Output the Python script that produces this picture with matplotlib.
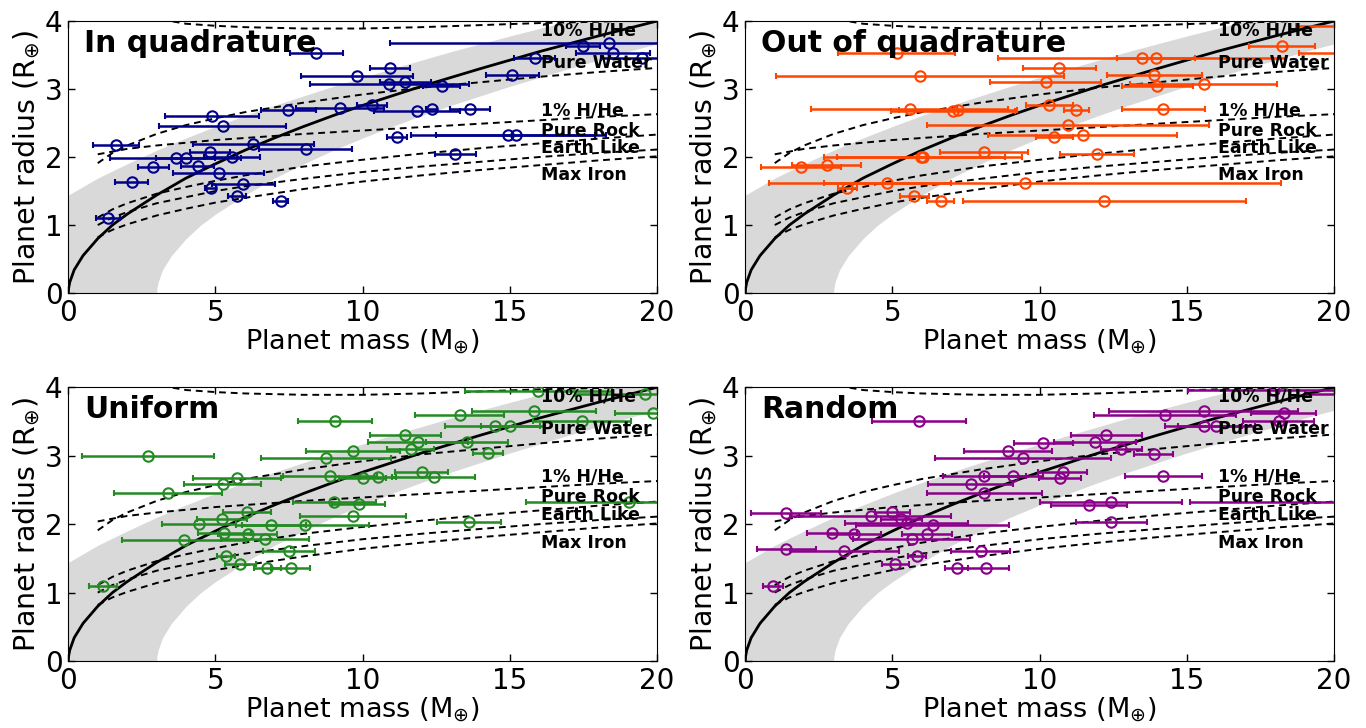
import numpy as np
import matplotlib
matplotlib.use("Agg")
import matplotlib.pyplot as plt

# mean mass-radius relation
rel_mass = np.array([0, 0.01, 0.05, 0.2, 0.5, 1, 1.5, 2, 3, 4, 5, 6, 7, 8, 9, 10, 12, 14, 16, 18, 20])
rel_rad = np.array([0, 0.07, 0.16, 0.34, 0.55, 0.80, 1.00, 1.16, 1.44, 1.69, 1.90, 2.10, 2.28, 2.45, 2.61,
                    2.76, 3.04, 3.30, 3.55, 3.78, 4.00])
band_width = 3.0  # Earth masses either side

# composition curves
comp_names = ["10% H/He", "Pure Water", "1% H/He", "Pure Rock", "Earth Like", "Max Iron"]
comp_label_y = [3.86, 3.39, 2.69, 2.39, 2.14, 1.73]
hhe10_mass = [2.8, 3.2, 4, 5, 6, 7, 8, 10, 12, 14, 16, 18, 20]
hhe10_rad = [4.10, 4.02, 3.96, 3.93, 3.91, 3.90, 3.89, 3.89, 3.91, 3.94, 3.97, 3.99, 4.02]
comp_mass = [1, 1.5, 2, 3, 4, 5, 6, 8, 10, 12, 14, 16, 18, 20]
water_rad = [1.91, 2.06, 2.17, 2.34, 2.47, 2.57, 2.66, 2.80, 2.92, 3.02, 3.10, 3.18, 3.25, 3.31]
hhe1_rad = [2.04, 2.08, 2.12, 2.17, 2.21, 2.25, 2.28, 2.34, 2.39, 2.44, 2.49, 2.54, 2.59, 2.63]
rock_rad = [1.11, 1.23, 1.32, 1.46, 1.56, 1.65, 1.73, 1.86, 1.96, 2.05, 2.13, 2.20, 2.27, 2.33]
earth_rad = [1.00, 1.11, 1.19, 1.32, 1.41, 1.50, 1.57, 1.68, 1.78, 1.86, 1.93, 2.00, 2.06, 2.11]
iron_rad = [0.82, 0.93, 1.01, 1.14, 1.24, 1.33, 1.40, 1.53, 1.64, 1.73, 1.81, 1.88, 1.95, 2.01]

# planets: mass, radius, mass error
quad_mass = [8.42, 9.8, 10.9, 7.48, 9.22, 4.88, 5.24, 1.62, 6.28, 8.06, 4.81, 3.65, 3.99, 5.56, 2.89,
             4.39, 5.11, 2.15, 5.95, 4.84, 5.73, 7.22, 1.34, 18.37, 17.49, 18.5, 15.84, 19.5, 10.94,
             15.08, 11.45, 12.68, 10.32, 11.85, 12.34, 13.63, 11.15, 14.95, 15.2, 13.15]
quad_rad = [3.53, 3.19, 3.08, 2.69, 2.72, 2.60, 2.46, 2.18, 2.19, 2.12, 2.08, 1.99, 1.99, 2.00, 1.86,
            1.87, 1.77, 1.64, 1.61, 1.54, 1.42, 1.36, 1.10, 3.68, 3.64, 3.53, 3.46, 3.45, 3.31,
            3.21, 3.11, 3.05, 2.77, 2.67, 2.70, 2.71, 2.30, 2.33, 2.33, 2.04]
quad_err = [0.9, 1.9, 2.7, 0.93, 1.5, 1.6, 2.16, 0.79, 2.06, 1.57, 0.68, 2.23, 1.0, 0.96, 0.53,
            0.55, 1.55, 0.55, 1.07, 0.18, 0.3, 0.26, 0.4, 7.45, 0.57, 1.25, 0.7, 1.4, 0.68,
            0.9, 0.87, 0.62, 0.5, 1.47, 0.2, 0.68, 0.34, 3.3, 2.7, 0.69]

out_mass = [5.14, 5.93, 5.59, 7.06, 7.23, 8.12, 6.04, 5.96, 1.88, 2.76, 4.83, 9.5, 3.46, 5.74, 6.64,
            12.2, 18.23, 21.0, 21.2, 13.47, 13.95, 10.67, 13.9, 10.2, 14.0, 15.57, 10.33, 11.24,
            14.2, 10.95, 11.46, 10.49, 11.96]
out_rad = [3.53, 3.19, 2.71, 2.67, 2.69, 2.08, 2.00, 2.00, 1.86, 1.88, 1.62, 1.62, 1.54, 1.42, 1.36,
           1.36, 3.64, 3.92, 3.53, 3.45, 3.46, 3.31, 3.21, 3.11, 3.05, 3.08, 2.76, 2.69,
           2.70, 2.47, 2.33, 2.29, 2.04]
out_err = [2.0, 4.9, 3.35, 2.1, 2.0, 1.5, 3.35, 2.86, 1.36, 1.16, 2.15, 8.7, 0.32, 0.5, 0.46,
           4.8, 1.12, 2.3, 2.4, 4.9, 1.33, 1.25, 1.6, 1.9, 1.2, 2.5, 0.8, 0.43,
           1.4, 4.79, 3.2, 0.63, 1.26]

uni_mass = [9.07, 2.70, 9.67, 8.75, 5.73, 5.24, 8.88, 3.38, 9.04, 9.86, 6.07, 9.67, 5.22, 4.44, 6.89,
            8.05, 5.29, 6.09, 3.93, 6.69, 7.49, 5.35, 5.84, 6.76, 7.56, 1.19, 15.96, 19.6, 13.29,
            15.82, 19.87, 17.44, 14.48, 15.02, 11.45, 11.88, 13.55, 11.63, 14.26, 12.0, 12.41,
            10.52, 10.0, 13.61, 19.05]
uni_rad = [3.51, 2.99, 3.07, 2.97, 2.68, 2.59, 2.71, 2.46, 2.32, 2.29, 2.18, 2.12, 2.07, 2.00, 1.99,
           1.99, 1.87, 1.86, 1.77, 1.79, 1.61, 1.53, 1.42, 1.36, 1.36, 1.09, 3.95, 3.90, 3.59,
           3.66, 3.63, 3.51, 3.44, 3.43, 3.30, 3.20, 3.20, 3.10, 3.04, 2.76, 2.69,
           2.69, 2.67, 2.03, 2.32]
uni_err = [1.25, 2.25, 1.6, 2.2, 1.5, 1.3, 1.6, 1.84, 1.4, 0.9, 0.82, 1.8, 0.85, 1.27, 1.2,
           2.15, 0.9, 1.0, 2.1, 1.5, 0.89, 0.3, 0.52, 0.46, 0.66, 0.48, 2.5, 2.4, 1.5,
           2.1, 1.3, 1.67, 1.7, 1.0, 1.2, 1.7, 1.4, 0.8, 0.5, 0.9, 1.4,
           0.6, 0.8, 1.09, 3.5]

rand_mass = [5.9, 8.93, 9.44, 8.12, 9.1, 7.66, 8.12, 1.39, 5.0, 4.26, 5.3, 5.48, 6.36, 2.93, 3.7,
             6.16, 5.65, 1.39, 3.36, 8.0, 5.84, 5.1, 7.18, 8.17, 0.94, 17.95, 21.0, 15.57, 14.26,
             18.29, 18.12, 15.57, 16.0, 12.26, 10.12, 11.88, 12.77, 13.87, 10.78, 10.69, 14.2,
             11.68, 12.42, 21.5, 12.43]
rand_rad = [3.51, 3.07, 2.97, 2.70, 2.70, 2.59, 2.46, 2.17, 2.18, 2.12, 2.07, 2.01, 1.99, 1.87, 1.86,
            1.86, 1.78, 1.63, 1.61, 1.61, 1.53, 1.42, 1.36, 1.36, 1.09, 3.96, 3.90, 3.66, 3.59,
            3.63, 3.51, 3.44, 3.43, 3.30, 3.18, 3.20, 3.10, 3.03, 2.76, 2.67, 2.70,
            2.28, 2.32, 2.32, 2.03]
rand_err = [1.6, 1.5, 3.0, 1.4, 1.0, 1.45, 1.95, 1.18, 0.6, 2.73, 0.7, 2.1, 2.6, 0.85, 0.9,
            0.85, 2.0, 1.0, 1.85, 1.0, 0.3, 0.46, 0.4, 0.8, 0.34, 2.9, 2.0, 3.2, 2.4,
            1.1, 1.2, 1.3, 1.3, 1.2, 1.0, 1.4, 0.7, 0.65, 0.84, 0.7, 1.3,
            1.3, 2.4, 6.4, 1.2]

panels = [
    ("In quadrature", quad_mass, quad_rad, quad_err, "#00008B"),
    ("Out of quadrature", out_mass, out_rad, out_err, "#FF4500"),
    ("Uniform", uni_mass, uni_rad, uni_err, "#228B22"),
    ("Random", rand_mass, rand_rad, rand_err, "#8B008B"),
]

positions = [
    [0.050, 0.5975, 0.431, 0.3736],
    [0.5456, 0.5975, 0.431, 0.3736],
    [0.050, 0.092, 0.431, 0.376],
    [0.5456, 0.092, 0.431, 0.376],
]

fig = plt.figure(figsize=(13.66, 7.28), dpi=100)

for (title, m, r, merr, col), pos in zip(panels, positions):
    ax = fig.add_axes(pos)

    ax.fill_betweenx(rel_rad, rel_mass - band_width, rel_mass + band_width,
                     color="#d9d9d9", lw=0, zorder=0)
    ax.plot(rel_mass, rel_rad, color="black", lw=2, zorder=2)

    dash = dict(color="black", lw=1.4, dashes=(3.5, 2.5), zorder=2)
    ax.plot(hhe10_mass, hhe10_rad, **dash)
    for rad in [water_rad, hhe1_rad, rock_rad, earth_rad, iron_rad]:
        ax.plot(comp_mass, rad, **dash)

    ax.errorbar(m, r, xerr=merr, fmt="o", mfc="none", mec=col, mew=1.5, ms=7.5,
                ecolor=col, elinewidth=1.8, capsize=2.5, capthick=1.5, zorder=3)

    for name, ly in zip(comp_names, comp_label_y):
        ax.text(16.05, ly, name, fontsize=12.5, fontweight="bold", va="center", zorder=5)

    ax.text(0.55, 3.67, title, fontsize=21.5, fontweight="bold", va="center", zorder=5)

    ax.set_xlim(0, 20)
    ax.set_ylim(0, 4)
    ax.set_xticks([0, 5, 10, 15, 20])
    ax.set_yticks([0, 1, 2, 3, 4])
    ax.tick_params(direction="in", top=True, right=True, length=5, width=1,
                   labelsize=20, pad=4)
    ax.set_xlabel(r"Planet mass (M$_{\oplus}$)", fontsize=19.5, labelpad=1)
    ax.set_ylabel(r"Planet radius (R$_{\oplus}$)", fontsize=20.5, labelpad=2)

fig.savefig("out.png", dpi=100)
